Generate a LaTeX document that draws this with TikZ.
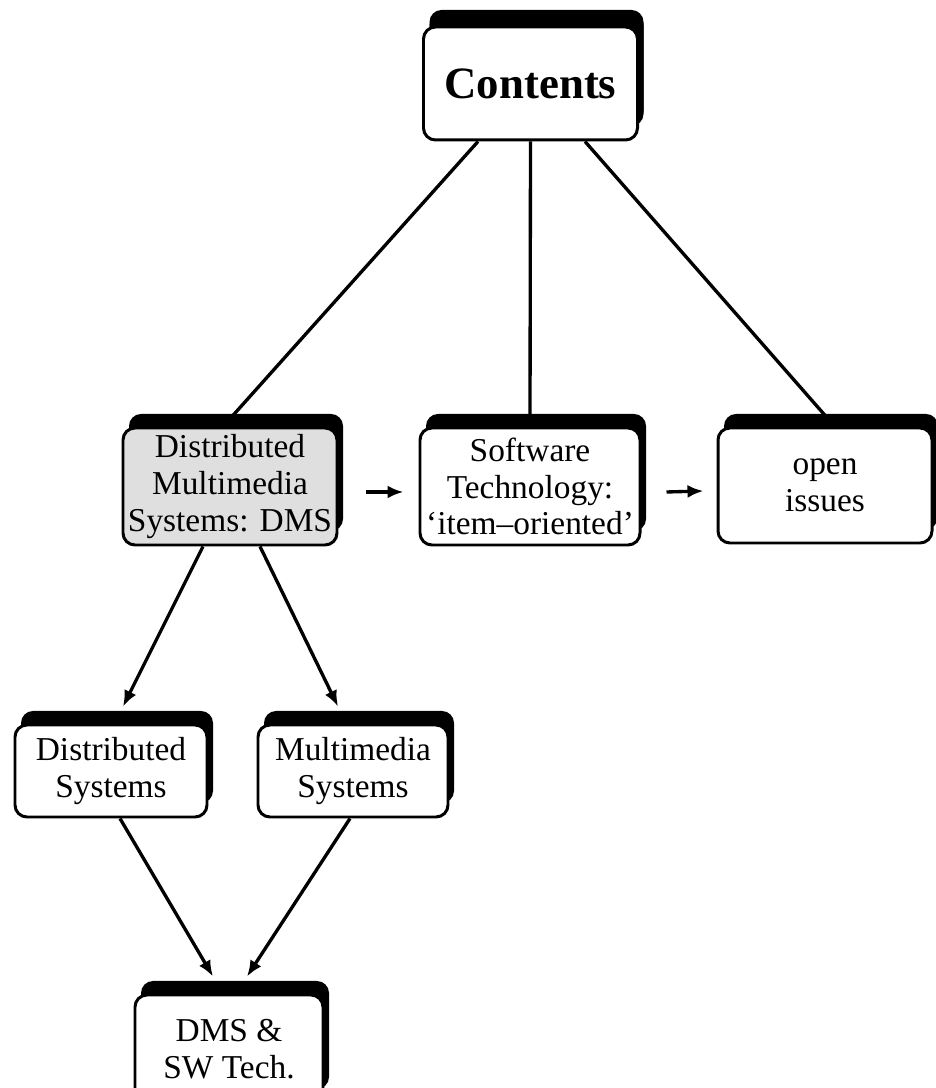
\documentclass[tikz,border=0pt]{standalone}
\usepackage{fontspec}
\setmainfont{Liberation Serif}
\usetikzlibrary{shadows,arrows.meta}
\begin{document}
\begin{tikzpicture}[
  blk/.style={draw, line width=1.7pt, rounded corners=0.24cm, fill=white, align=center, inner sep=0pt,
    font=\fontsize{19}{21}\selectfont,
    general shadow={fill=black, shadow xshift=0.12cm, shadow yshift=0.28cm}},
  con/.style={line width=1.9pt},
  arr/.style={line width=1.9pt, -{Latex[length=0.32cm,width=0.26cm]}}]
\useasboundingbox (0,0) rectangle (18.7,21.76);
\node[blk, minimum width=4.28cm, minimum height=2.26cm, font=\fontsize{25.5}{28}\selectfont\bfseries,
  general shadow={fill=black, shadow xshift=0.12cm, shadow yshift=0.34cm}] (contents) at (10.61,20.09) {Contents};
\node[blk, fill=gray!25, minimum width=4.28cm, minimum height=2.34cm] (dms) at (4.60,12.03) {Distributed\\Multimedia\\Systems: DMS};
\node[blk, minimum width=4.40cm, minimum height=2.34cm] (sw) at (10.60,12.03) {Software\\Technology:\\`item--oriented'};
\node[blk, minimum width=4.28cm, minimum height=2.30cm] (open) at (16.50,12.05) {open\\issues};
\node[blk, minimum width=3.84cm, minimum height=1.84cm] (dsys) at (2.22,6.34) {Distributed\\Systems};
\node[blk, minimum width=3.80cm, minimum height=1.84cm] (msys) at (7.06,6.34) {Multimedia\\Systems};
\node[blk, minimum width=3.76cm, minimum height=2.16cm] (dmssw) at (4.58,0.78) {DMS \&\\SW Tech.};
\draw[con] ([xshift=-1.05cm]contents.south) -- ([xshift=0.04cm,yshift=0.2cm]dms.north);
\draw[con] (contents.south) -- ([yshift=0.2cm]sw.north);
\draw[con] ([xshift=1.09cm]contents.south) -- ([xshift=0.02cm,yshift=0.2cm]open.north);
\draw[arr] ([xshift=0.56cm,yshift=-0.11cm]dms.east) -- ([xshift=-0.3cm,yshift=-0.11cm]sw.west);
\draw[arr] ([xshift=0.5cm,yshift=-0.11cm]sw.east) -- ([xshift=-0.26cm,yshift=-0.11cm]open.west);
\draw[arr] ([xshift=-0.54cm]dms.south) -- ([xshift=0.24cm,yshift=0.34cm]dsys.north);
\draw[arr] ([xshift=0.6cm]dms.south) -- ([xshift=-0.3cm,yshift=0.34cm]msys.north);
\draw[arr] ([xshift=0.18cm]dsys.south) -- ([xshift=-0.32cm,yshift=0.34cm]dmssw.north);
\draw[arr] ([xshift=-0.06cm]msys.south) -- ([xshift=0.36cm,yshift=0.34cm]dmssw.north);
\end{tikzpicture}
\end{document}
